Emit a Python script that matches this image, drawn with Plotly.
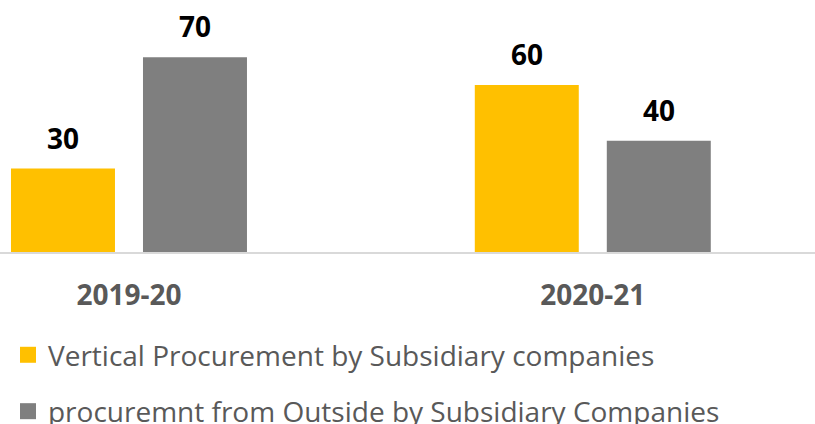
import plotly.graph_objects as go

categories = ["2019-20", "2020-21"]
vertical = [30, 60]
outside = [70, 40]
series_names = ["Vertical Procurement by Subsidiary companies",
                "procuremnt from Outside by Subsidiary Companies"]
colors = ["#FFC000", "#7F7F7F"]

BAR_W = 0.2242
OFFSETS = [-0.2544, 0.0302]

fig = go.Figure()
for vals, name, col, off in zip([vertical, outside], series_names, colors, OFFSETS):
    fig.add_trace(go.Bar(x=categories, y=vals, name=name, marker_color=col,
                         width=BAR_W, offset=off, showlegend=False,
                         marker_line_width=0))
    for i, v in enumerate(vals):
        fig.add_annotation(x=i + off + BAR_W / 2, y=v, text=f"<b>{v}</b>",
                           showarrow=False, yanchor="middle", yshift=31,
                           font=dict(family="Open Sans", size=28, color="#000000"))

for name, col, grp in zip(series_names, colors, ["a", "b"]):
    fig.add_trace(go.Scatter(x=[None], y=[None], mode="markers", name=name,
                             legendgroup=grp,
                             marker=dict(symbol="square", size=18, color=col)))

fig.update_layout(
    width=815, height=424,
    margin=dict(l=0, r=0, t=0, b=172, autoexpand=False),
    paper_bgcolor="white", plot_bgcolor="white",
    barmode="overlay",
    xaxis=dict(type="category", range=[-0.2781, 1.4791], showline=True,
               linecolor="#D9D9D9", linewidth=1.5, showgrid=False, zeroline=False,
               ticks="", ticklabelstandoff=18, automargin=False,
               tickfont=dict(family="Open Sans", size=28, color="#595959", weight="bold")),
    yaxis=dict(range=[0, 90.6], visible=False, showgrid=False, zeroline=False,
               automargin=False),
    legend=dict(x=0.0098, xanchor="left", y=0.2215, yanchor="top", yref="container",
                orientation="v", traceorder="grouped", tracegroupgap=17,
                font=dict(family="Open Sans", size=28, color="#595959"),
                bgcolor="rgba(0,0,0,0)"),
)

fig.write_html("out.html", config={"displayModeBar": False},
               post_script="document.body.style.margin='0';document.body.style.overflow='hidden';")
